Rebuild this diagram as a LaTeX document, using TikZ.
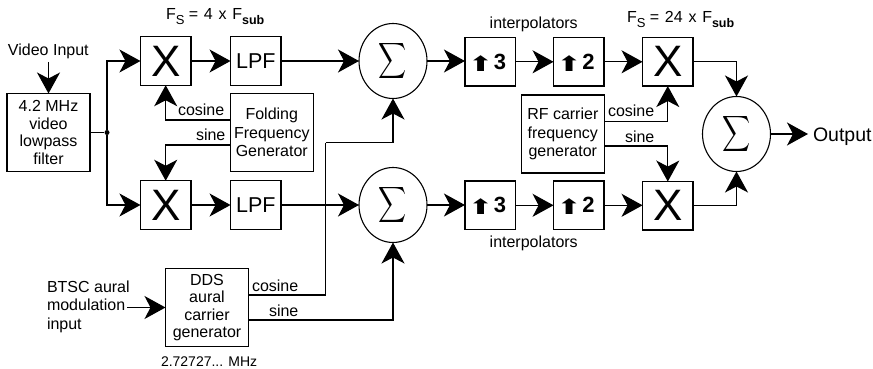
\documentclass[tikz,border=0pt]{standalone}
\usepackage{fontspec}
\usepackage{graphicx}
\setmainfont{Liberation Sans}
\newfontfamily\djfont{DejaVu Sans}
\usetikzlibrary{arrows.meta,shapes.geometric}
\newcommand{\bigX}{\fontsize{44}{44}\selectfont X}
\newcommand{\bigSum}{\scalebox{1.95}[2.5]{$\displaystyle\sum$}}
\newcommand{\upb}[1]{\raisebox{-1.7pt}[0pt][0pt]{\scalebox{1}[0.7]{\fontsize{30}{30}\djfont ⬆}}\hspace{0.7pt}{\fontsize{22}{22}\selectfont\bfseries #1}\hspace{6.3pt}}
\newcommand{\fsub}[1]{F\raisebox{-4.5pt}{\fontsize{13}{13}\selectfont S} =\hspace{1.3pt} #1\hspace{1.3pt} x\hspace{1.3pt} F\raisebox{-4.5pt}{\fontsize{12.5}{13}\selectfont\bfseries sub}}
\tikzset{
  txt/.style={font=\fontsize{16}{17.5}\selectfont,inner sep=0pt,outer sep=0pt},
  box/.style={txt,draw,line width=1.3pt,align=center},
  small/.style={box,minimum width=50.5pt,minimum height=48.5pt},
  large/.style={box,minimum width=83pt,minimum height=78pt},
  sumnode/.style={txt,draw,line width=1.1pt,ellipse,minimum width=68pt,minimum height=75pt},
  lab/.style={txt,anchor=base west},
  wire/.style={line width=1.3pt},
  arr/.style={wire,-{Stealth[length=21pt,width=23pt,inset=6pt]}},
}
\begin{document}
\begin{tikzpicture}[x=1pt,y=-1pt]
\fill[white] (0,0) rectangle (873,369);
\useasboundingbox (0,0) rectangle (873,369);
% boxes
\node[large] (filter) at (48.5,132.5) {4.2 MHz\\video\\lowpass\\filter};
\node[small] (x1) at (165.7,61) {\bigX};
\node[small] (l1) at (255.8,61) {\fontsize{21.5}{21.5}\selectfont LPF};
\node[small] (x2) at (165.7,205) {\bigX};
\node[small] (l2) at (255.8,205) {\fontsize{21.5}{21.5}\selectfont LPF};
\node[large,font=\fontsize{16}{18.3}\selectfont] (fold) at (271.8,132.3) {Folding\\Frequency\\Generator};
\node[large] (dds) at (207,307.5) {DDS\\aural\\carrier\\generator};
\node[sumnode] (s1) at (393,61) {\bigSum};
\node[sumnode] (s2) at (393,205) {\bigSum};
\node[small] (u31) at (490.2,61.8) {\upb{3}};
\node[small] (u21) at (578.8,61.8) {\upb{2}};
\node[small] (x3) at (667.8,61.8) {\bigX};
\node[small] (u32) at (490.2,205.3) {\upb{3}};
\node[small] (u22) at (578.8,205.3) {\upb{2}};
\node[small] (x4) at (667.8,205.8) {\bigX};
\node[large,font=\fontsize{16}{18.3}\selectfont] (rf) at (562.8,134) {RF carrier\\frequency\\generator};
\node[sumnode] (s3) at (736.5,134) {\bigSum};
% labels
\node[lab] (fs1) at (166,20) {\fsub{4}};
\node[lab] (fs2) at (627,23) {\fsub{24}};
\node[lab] (vid) at (8,56) {Video Input};
\node[lab] (i1) at (489.7,29) {interpolators};
\node[lab] (i2) at (489.7,247.7) {interpolators};
\node[lab] (c1) at (178,115.7) {cosine};
\node[lab] (s1l) at (196,140.7) {sine};
\node[lab] (c2) at (252,291) {cosine};
\node[lab] (s2l) at (269,316) {sine};
\node[lab] (c3) at (608,117) {cosine};
\node[lab] (s3l) at (625,142.7) {sine};
\node[lab,align=left,font=\fontsize{16}{18.5}\selectfont,anchor=north west] (btsc) at (47,280.5) {BTSC aural\\modulation\\input};
\node[lab,font=\fontsize{14}{14}\selectfont] (mhz) at (161,366.7) {2.72727... MHz};
\node[lab,font=\fontsize{19.5}{19.5}\selectfont] (out) at (813,141) {Output};
% junction and helper coordinates
\node[circle,fill=black,inner sep=0pt,minimum size=5pt] (j) at (107,132.5) {};
\coordinate (vidend) at (48.5,62);
\coordinate (foldc) at (230.3,120);
\coordinate (folds) at (230.3,145);
\coordinate (ddsc) at (248.5,295);
\coordinate (ddss) at (248.5,320);
\coordinate (bend) at (325.7,142.7);
\coordinate (rfc) at (604.3,121.7);
\coordinate (rfs) at (604.3,146);
\coordinate (btscend) at (127,307.5);
\coordinate (outend) at (808,134);
% connectors
\draw[arr] (vidend) -- (filter.north);
\draw[wire] (filter.east |- j) -- (j);
\draw[arr] (j) |- (x1.west);
\draw[arr] (j) |- (x2.west);
\draw[arr] (x1) -- (l1);
\draw[arr] (x2) -- (l2);
\draw[arr] (l1) -- (s1);
\draw[arr] (l2) -- (s2);
\draw[arr] (foldc) -| (x1.south);
\draw[arr] (folds) -| (x2.north);
\draw[wire] (ddsc) -| (bend);
\draw[arr] (bend) -| (s1.south);
\draw[arr] (ddss) -| (s2.south);
\draw[arr] (btscend) -- (dds.west);
\draw[arr] (s1.east) -- (s1.east -| u31.west);
\draw[arr] (s2.east) -- (s2.east -| u32.west);
\draw[arr] (u31) -- (u21);
\draw[arr] (u32) -- (u22);
\draw[arr] (u21) -- (x3);
\draw[arr] (u22) -- (u22 -| x4.west);
\draw[arr] (rfc) -| (x3.south);
\draw[arr] (rfs) -| (x4.north);
\draw[arr] (x3) -| (s3.north);
\draw[arr] (x4) -| (s3.south);
\draw[arr] (s3) -- (outend);
\end{tikzpicture}
\end{document}
